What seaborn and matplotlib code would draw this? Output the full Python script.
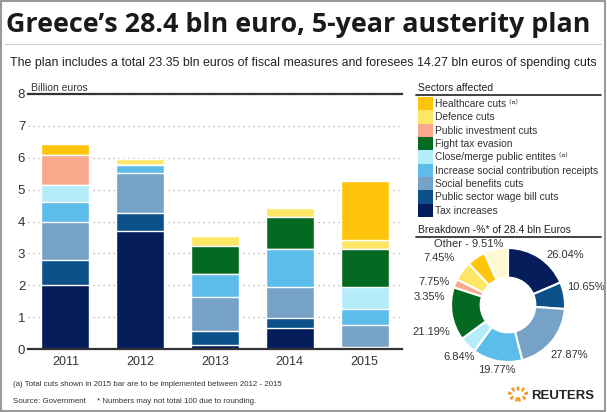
import matplotlib
matplotlib.use("Agg")
import matplotlib.pyplot as plt
import pandas as pd
import seaborn as sns
from matplotlib.lines import Line2D
from matplotlib.patches import Circle, Patch, Rectangle

sns.set_theme(style="white")
plt.rcParams["font.family"] = ["Liberation Sans", "DejaVu Sans"]

# ---- data (billion euros per year) ----
years = ["2011", "2012", "2013", "2014", "2015"]
tax_increases = [2.00, 3.69, 0.11, 0.66, 0.00]
wage_bill_cuts = [0.78, 0.57, 0.46, 0.30, 0.05]
social_benefits = [1.19, 1.26, 1.06, 1.00, 0.69]
social_contrib = [0.65, 0.24, 0.71, 1.17, 0.51]
close_merge = [0.52, 0.00, 0.00, 0.00, 0.69]
fight_tax = [0.00, 0.00, 0.88, 1.00, 1.19]
public_invest = [0.95, 0.00, 0.00, 0.00, 0.00]
defence = [0.00, 0.21, 0.32, 0.30, 0.30]
healthcare = [0.35, 0.00, 0.00, 0.00, 1.84]

sectors = ["Tax increases", "Public sector wage bill cuts", "Social benefits cuts",
           "Increase social contribution receipts", "Close/merge public entites",
           "Fight tax evasion", "Public investment cuts", "Defence cuts", "Healthcare cuts"]
sector_labels = {"Healthcare cuts": "Healthcare cuts \u207d\u1d43\u207e",
                 "Close/merge public entites": "Close/merge public entites \u207d\u1d43\u207e"}
colors = {"Tax increases": "#061d5c", "Public sector wage bill cuts": "#0c5189",
          "Social benefits cuts": "#75a2c6", "Increase social contribution receipts": "#5cbdea",
          "Close/merge public entites": "#b4ecfa", "Fight tax evasion": "#046a22",
          "Public investment cuts": "#f8a98c", "Defence cuts": "#fde566",
          "Healthcare cuts": "#fec50c", "Other": "#fff8d2"}

# breakdown donut (% of 28.4 bln euros)
donut_names = sectors + ["Other"]
donut_pct = [26.04, 10.65, 27.87, 19.77, 6.84, 21.19, 3.35, 7.75, 7.45, 9.51]

# where each donut label sits (radius units) and how it is aligned
label_pos = [(0.68, 0.88, "left"), (1.04, 0.32, "left"), (0.74, -0.88, "left"),
             (-0.19, -1.14, "center"), (-0.58, -0.91, "right"), (-1.02, -0.47, "right"),
             (-1.10, 0.14, "right"), (-1.02, 0.40, "right"), (-0.93, 0.82, "right"),
             (-0.08, 1.07, "right")]

W, H = 607, 412
fig = plt.figure(figsize=(W / 100, H / 100), dpi=100)


def fx(px):
    return px / W


def fy(py):
    return 1 - py / H


# ---- stacked bars ----
ax = fig.add_axes([fx(28), fy(349), fx(402) - fx(28), fy(94) - fy(349)])
df = pd.DataFrame({"year": years, sectors[0]: tax_increases, sectors[1]: wage_bill_cuts,
                   sectors[2]: social_benefits, sectors[3]: social_contrib,
                   sectors[4]: close_merge, sectors[5]: fight_tax, sectors[6]: public_invest,
                   sectors[7]: defence, sectors[8]: healthcare})
cum = df[sectors].cumsum(axis=1)
for s in reversed(sectors):
    sns.barplot(x=df["year"], y=cum[s], color=colors[s], saturation=1, width=0.64,
                errorbar=None, ax=ax, zorder=3)

ax.set_xlim(-0.5, 4.5)
ax.set_ylim(0, 8)
ax.set_yticks(range(9))
ax.set_xlabel("")
ax.set_ylabel("")
ax.yaxis.grid(True, linestyle=(0, (1, 3)), color="#aaaaaa", linewidth=0.9)
ax.set_axisbelow(True)
for side in ["left", "right"]:
    ax.spines[side].set_visible(False)
for side in ["top", "bottom"]:
    ax.spines[side].set_color("#333333")
    ax.spines[side].set_linewidth(1.6)
    ax.spines[side].set_zorder(4)
ax.tick_params(axis="y", length=0, pad=2, labelsize=9.5, labelcolor="#333333")
ax.tick_params(axis="x", length=0, pad=5, labelsize=9, labelcolor="#333333")
ax.set_facecolor("white")
fig.text(fx(31), fy(91), "Billion euros", fontsize=7.5, color="#333333", va="baseline")

# ---- titles ----
fig.text(fx(6), fy(32), "Greece\u2019s 28.4 bln euro, 5-year austerity plan",
         fontsize=19.4, fontweight="bold", family=["Open Sans", "DejaVu Sans"],
         color="#1a1a1a", va="baseline")
fig.add_artist(Line2D([fx(5), fx(601)], [fy(44), fy(44)], color="#cccccc", lw=0.8))
fig.text(fx(10), fy(66), "The plan includes a total 23.35 bln euros of fiscal measures and "
         "foresees 14.27 bln euros of spending cuts", fontsize=8.9, color="#222222",
         va="baseline")

# ---- legend ----
fig.text(fx(418), fy(91), "Sectors affected", fontsize=7.5, color="#222222", va="baseline")
fig.add_artist(Line2D([fx(416), fx(601)], [fy(95), fy(95)], color="#333333", lw=1.3))
handles = [Patch(facecolor=colors[s], edgecolor="none") for s in reversed(sectors)]
labels = [sector_labels.get(s, s) for s in reversed(sectors)]
leg = fig.legend(handles, labels, loc="upper left", bbox_to_anchor=(fx(418), fy(97)),
                 frameon=False, fontsize=7.4, handlelength=1.45, handleheight=1.62,
                 labelspacing=0, handletextpad=0.2, borderpad=0, borderaxespad=0)
for t in leg.get_texts():
    t.set_color("#333333")

# ---- donut ----
fig.text(fx(418), fy(233), "Breakdown -%* of 28.4 bln Euros", fontsize=7.5,
         color="#222222", va="baseline")
fig.add_artist(Line2D([fx(416), fx(601)], [fy(237), fy(237)], color="#333333", lw=1.3))
ax2 = fig.add_axes([fx(418), fy(395), 180 / W, 180 / H])
ax2.pie(donut_pct, colors=[colors[n] for n in donut_names], startangle=90,
        counterclock=False, radius=1,
        wedgeprops=dict(width=0.52, edgecolor="white", linewidth=1.5))
for v, name, (lx, ly, ha) in zip(donut_pct, donut_names, label_pos):
    txt = f"{v:.2f}%" if name != "Other" else f"Other - {v:.2f}%"
    ax2.text(lx, ly, txt, ha=ha, va="center", fontsize=8, color="#333333")
ax2.set_xlim(-1.58, 1.58)
ax2.set_ylim(-1.58, 1.58)
ax2.axis("off")

# ---- footer ----
fig.text(fx(13), fy(386), "(a) Total cuts shown in 2015 bar are to be implemented between "
         "2012 - 2015", fontsize=5.7, color="#333333", va="baseline")
fig.text(fx(13), fy(403), "Source: Government     * Numbers may not total 100 due to rounding.",
         fontsize=5.7, color="#333333", va="baseline")
fig.add_artist(Circle((fx(518), fy(394)), 8 / W, transform=fig.transFigure, fill=False,
                      edgecolor="#f39a2b", lw=3, linestyle=(0, (0.6, 0.6))))
fig.text(fx(531), fy(399), "REUTERS", fontsize=9.5, fontweight="bold", color="#222222",
         va="baseline")

fig.add_artist(Rectangle((0.002, 0.003), 0.995, 0.994, transform=fig.transFigure,
                         fill=False, edgecolor="#999999", lw=1.5))

fig.savefig("out.png", dpi=100)
